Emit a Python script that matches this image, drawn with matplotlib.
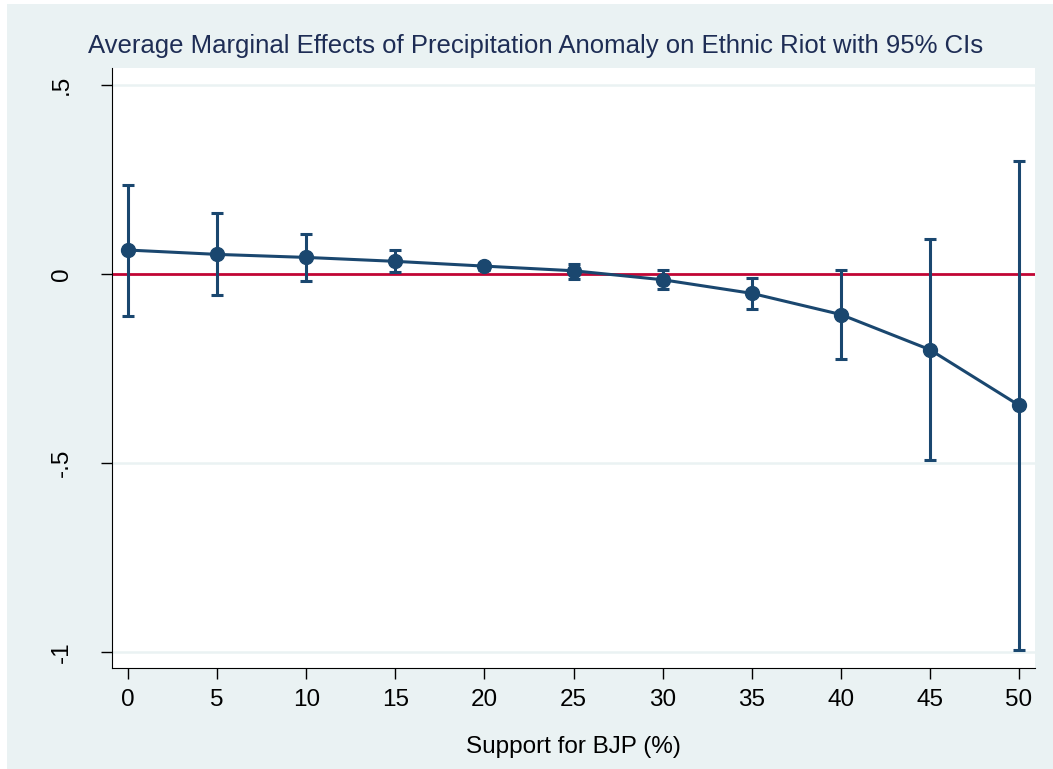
import numpy as np
import matplotlib.pyplot as plt
from matplotlib.patches import Rectangle

plt.rcParams['font.family'] = ['Liberation Sans', 'DejaVu Sans']

# Marginal effects
bjp = [0, 5, 10, 15, 20, 25, 30, 35, 40, 45, 50]
ame = [0.0635, 0.052, 0.044, 0.0336, 0.021, 0.0087, -0.015, -0.051, -0.107, -0.200, -0.347]
ci_hi = [0.235, 0.161, 0.105, 0.0635, 0.029, 0.026, 0.0106, -0.0106, 0.0106, 0.093, 0.299]
ci_lo = [-0.110, -0.056, -0.0185, 0.005, 0.011, -0.012, -0.040, -0.092, -0.226, -0.493, -0.995]

navy = '#1a476f'
bg = '#eaf2f3'

fig = plt.figure(figsize=(10.53, 7.69), dpi=100, facecolor='white')
# outer graph region (thin white margin at left and top)
fig.add_artist(Rectangle((7 / 1053, 0), 1 - 7 / 1053, 1 - 4 / 769,
                         transform=fig.transFigure, facecolor=bg,
                         edgecolor='none', zorder=-10))

ax = fig.add_axes([112 / 1053, 1 - 668 / 769, (1035 - 112) / 1053, (668 - 68) / 769])
ax.set_zorder(1)
ax.set_facecolor('white')

ame = np.array(ame)
yerr = [ame - np.array(ci_lo), np.array(ci_hi) - ame]

for yv in [0.5, -0.5, -1]:
    ax.axhline(yv, color=bg, lw=1.8, zorder=0)
ax.axhline(0, color='#c10534', lw=2, zorder=1)
ax.errorbar(bjp, ame, yerr=yerr, color=navy, lw=2.2, marker='o', ms=10,
            capsize=4.5, capthick=2.2, elinewidth=2.2, zorder=3)

ax.set_xlim(-0.9, 50.9)
ax.set_ylim(-1.042, 0.545)
ax.set_xticks(bjp)
ax.set_yticks([-1, -0.5, 0, 0.5])
ax.set_yticklabels(['-1', '-.5', '0', '.5'], rotation=90, va='center')
ax.tick_params(labelsize=17.5, length=8, width=1, direction='out')
ax.tick_params(axis='y', pad=20)
ax.tick_params(axis='x', pad=7)
for s in ['top', 'right']:
    ax.spines[s].set_visible(False)

ax.set_xlabel('Support for BJP (%)', fontsize=17.5, labelpad=18)
fig.text(536 / 1053, 1 - 46 / 769,
         'Average Marginal Effects of Precipitation Anomaly on Ethnic Riot with 95% CIs',
         fontsize=18.5, color='#1e2d55', ha='center', va='center')

fig.savefig('out.png', facecolor='white')
